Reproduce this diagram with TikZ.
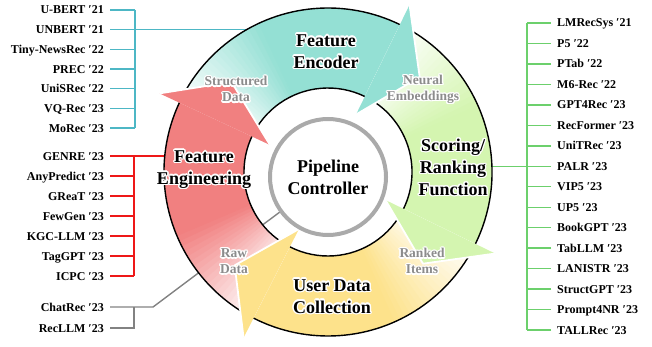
\documentclass[tikz,border=0pt]{standalone}
\usepackage{fontspec}
\setmainfont{Liberation Serif}
\usepackage{contour}
\contourlength{1.3pt}
\usetikzlibrary{calc}
\definecolor{encfill}{RGB}{148,224,212}
\definecolor{rankfill}{RGB}{212,245,176}
\definecolor{userfill}{RGB}{253,226,139}
\definecolor{engfill}{RGB}{241,128,128}
\definecolor{encline}{RGB}{77,183,197}
\definecolor{engline}{RGB}{238,24,24}
\definecolor{rankline}{RGB}{108,208,108}
\definecolor{ctrlline}{RGB}{130,130,130}
\definecolor{hubgray}{RGB}{170,170,170}
\definecolor{flowgray}{RGB}{140,140,140}
\newcommand{\halo}[1]{\contour{white}{#1}}
\tikzset{
  item/.style={font=\bfseries\fontsize{12}{14}\selectfont, inner sep=0pt, text height=8pt, text depth=0pt},
  title/.style={font=\bfseries\fontsize{18}{22}\selectfont, align=center, inner sep=0pt},
  flow/.style={font=\bfseries\fontsize{13.5}{16}\selectfont, text=flowgray, align=center, inner sep=0pt},
  bus/.style={line width=1.4pt}
}
\begin{document}
\begin{tikzpicture}[x=1pt, y=1pt]
  \pgfmathsetmacro{\ro}{164}
  \pgfmathsetmacro{\ri}{84}
  \useasboundingbox (0,0) rectangle (652,346);
  \coordinate (c) at (328,174);
  \coordinate (g) at (328,169);
  \coordinate (encbus) at (135,0);
  \coordinate (engbus) at (134,0);
  \coordinate (ctrlbus) at (134,0);
  \coordinate (rankbus) at (527,0);
  \coordinate (encin) at ([shift={(c)}]118:158);
  \coordinate (engin) at ([shift={(c)}]175:158);
  \coordinate (rankin) at ([shift={(c)}]2:158);
  \coordinate (ctrlin) at ([shift={(g)}]216:59);
  \foreach \nm/\txt [count=\k] in {ubert/U-BERT ′21, unbert/UNBERT ′21, tinynewsrec/Tiny-NewsRec ′22, prec/PREC ′22, unisrec/UniSRec ′22, vqrec/VQ-Rec ′23, morec/MoRec ′23}{
    \node[item, anchor=east] (\nm) at (104, 355.67-19.67*\k) {\txt};
    \draw[encline, bus] ([xshift=6pt]\nm.east) -- (\nm.east -| encbus);
  }
  \draw[encline, bus] (ubert.east -| encbus) -- (morec.east -| encbus) (unbert.east -| encbus) -- (unbert.east -| encin);
  \foreach \nm/\txt [count=\k] in {genre/GENRE ′23, anypredict/AnyPredict ′23, great/GReaT ′23, fewgen/FewGen ′23, kgcllm/KGC-LLM ′23, taggpt/TagGPT ′23, icpc/ICPC ′23}{
    \node[item, anchor=east] (\nm) at (104, 210-20*\k) {\txt};
    \draw[engline, bus] ([xshift=6pt]\nm.east) -- (\nm.east -| engbus);
  }
  \draw[engline, bus] (genre.east -| engbus) -- (icpc.east -| engbus) (genre.east -| engbus) -- (genre.east -| engin);
  \node[item, anchor=east] (chatrec) at (104,39) {ChatRec ′23};
  \node[item, anchor=east] (recllm) at (104,18) {RecLLM ′23};
  \draw[ctrlline, bus] ([xshift=6pt]chatrec.east) -- ++(43,0) -- (ctrlin);
  \draw[ctrlline, bus] ([xshift=6pt]recllm.east) -- (recllm.east -| ctrlbus) -- (chatrec.east -| ctrlbus);
  \foreach \nm/\txt [count=\k] in {lmrecsys/LMRecSys ′21, p5/P5 ′22, ptab/PTab ′22, m6rec/M6-Rec ′22, gpt4rec/GPT4Rec ′23, recformer/RecFormer ′23, unitrec/UniTRec ′23, palr/PALR ′23, vip5/VIP5 ′23, up5/UP5 ′23, bookgpt/BookGPT ′23, tabllm/TabLLM ′23, lanistr/LANISTR ′23, structgpt/StructGPT ′23, prompt4nr/Prompt4NR ′23, tallrec/TALLRec ′23}{
    \node[item, anchor=west] (\nm) at (557, 343.47-20.47*\k) {\txt};
    \draw[rankline, bus] ([xshift=-6pt]\nm.west) -- (\nm.west -| rankbus);
  }
  \draw[rankline, bus] (lmrecsys.west -| rankbus) -- (tallrec.west -| rankbus) (palr.west -| rankbus) -- (palr.west -| rankin);
  \foreach \col/\tail/\base in {encfill/155/64, rankfill/64/-26, userfill/-26/-117, engfill/243/155}{
    \foreach \k in {0,...,19}{
      \pgfmathsetmacro{\sl}{\tail-2*\k}
      \pgfmathsetmacro{\el}{\sl-2.3}
      \pgfmathtruncatemacro{\pct}{5*\k+2}
      \fill[\col!\pct!white] ([shift={(c)}]\sl:\ro) arc[start angle=\sl, end angle=\el, radius=\ro] -- ([shift={(c)}]\el:\ri) arc[start angle=\el, end angle=\sl, radius=\ri] -- cycle;
    }
    \pgfmathsetmacro{\solid}{\tail-40}
    \fill[\col] ([shift={(c)}]\solid:\ro) arc[start angle=\solid, end angle=\base, radius=\ro] -- ([shift={(c)}]\base:\ri) arc[start angle=\base, end angle=\solid, radius=\ri] -- cycle;
    \draw[line width=1.4pt] ([shift={(c)}]\tail:\ro) arc[start angle=\tail, end angle=\base, radius=\ro] ([shift={(c)}]\tail:\ri) arc[start angle=\tail, end angle=\base, radius=\ri];
  }
  \foreach \col/\base in {encfill/64, rankfill/-26, userfill/-117, engfill/155}{
    \pgfmathsetmacro{\tp}{\base-18}
    \fill[\col] ([shift={(c)}]\base:186) -- ([shift={(c)}]\tp:132) -- ([shift={(c)}]\base:64) -- cycle;
    \draw[white, line width=1.8pt, line join=round] ([shift={(c)}]\base:186) -- ([shift={(c)}]\tp:132) -- ([shift={(c)}]\base:64);
  }
  \draw[hubgray, line width=4pt, fill=white] (g) circle[radius=58];
  \node[title] (ctrl) at (g) {Pipeline\\Controller};
  \node[title] (enc) at (326,294) {\halo{Feature}\\\halo{Encoder}};
  \node[title] (rank) at (453,178) {\halo{Scoring/}\\\halo{Ranking}\\\halo{Function}};
  \node[title] (user) at (332,49) {\halo{User Data}\\\halo{Collection}};
  \node[title] (eng) at (204,176) {\halo{Feature}\\\halo{Engineering}};
  \node[flow] (structured) at (236,256) {\halo{Structured}\\\halo{Data}};
  \node[flow] (neural) at (423,256) {\halo{Neural}\\\halo{Embeddings}};
  \node[flow] (ranked) at (422,84) {\halo{Ranked}\\\halo{Items}};
  \node[flow] (raw) at (234,84) {\halo{Raw}\\\halo{Data}};
\end{tikzpicture}
\end{document}
